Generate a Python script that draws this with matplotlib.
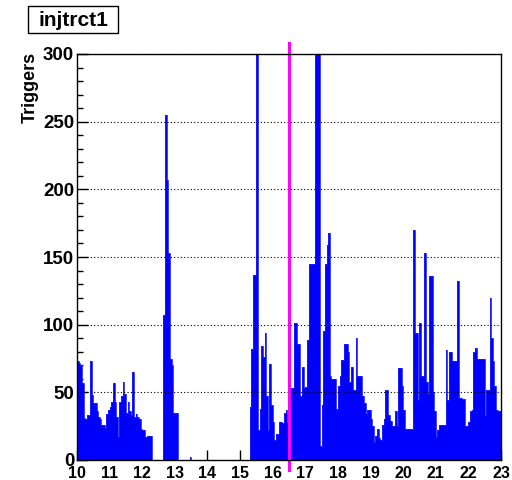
import numpy as np
import matplotlib
matplotlib.use("Agg")
import matplotlib.pyplot as plt
from matplotlib.patches import Rectangle
from matplotlib.ticker import MultipleLocator

plt.rcParams['font.family'] = ['Liberation Sans', 'DejaVu Sans']

# ---- data ----
title = "injtrct1"
y_label = "Triggers"
x_min, x_max, bin_width = 10.0, 23.0, 0.05
marker_x = 16.5

seg_10_12 = [73, 72, 70, 57, 31, 30, 33, 33, 73, 48, 42, 42, 36, 32, 30, 26, 26, 24,
             34, 37, 39, 43, 57, 43, 32, 17, 43, 47, 58, 49, 35, 43, 36, 33, 65, 32,
             34, 32, 30, 23, 22, 22, 17, 18, 18, 18]
seg_gap1 = [0, 0, 0, 0, 0, 0, 0]
seg_13 = [107, 255, 207, 153, 75, 70, 35, 35, 35]
seg_gap2 = [0] * 7 + [2] + [0] * 36
seg_15_17 = [39, 82, 137, 137, 320, 22, 38, 84, 76, 94, 47, 22, 71, 41, 28, 15, 19, 19,
             28, 28, 27, 35, 37, 27, 53, 53, 53, 101, 101, 86, 86, 47, 69, 53, 54, 89,
             145, 145, 145, 145, 320, 320, 320, 10, 41, 95, 145, 159, 168]
seg_17_20 = [62, 60, 60, 60, 38, 55, 62, 74, 74, 86, 86, 80, 58, 69, 52, 52, 90, 62,
             62, 62, 47, 42, 34, 37, 37, 30, 25, 13, 18, 23, 16, 15, 26, 30, 52, 52,
             33, 29, 25, 25, 36, 25, 68, 68, 55, 37]
seg_20_23 = [23, 23, 23, 23, 23, 170, 94, 94, 44, 101, 62, 62, 153, 58, 49, 136, 136,
             50, 36, 17, 22, 26, 26, 26, 26, 81, 44, 80, 80, 73, 73, 73, 132, 46, 46,
             45, 45, 25, 25, 28, 36, 37, 80, 83, 75, 75, 75, 75, 75, 33, 52, 52, 120,
             90, 73, 55, 37, 36, 36]

counts = np.array(seg_10_12 + seg_gap1 + seg_13 + seg_gap2 + seg_15_17 + seg_17_20 + seg_20_23, dtype=float)
n_bins = int(round((x_max - x_min) / bin_width))
edges = np.linspace(x_min, x_max, n_bins + 1)

y_max = 300
y_ticks = [0, 50, 100, 150, 200, 250, 300]
x_ticks = list(range(10, 24))

# ---- figure ----
fig = plt.figure(figsize=(5.12, 4.8), dpi=100)
ax = fig.add_axes([77 / 512, 20 / 480, 424 / 512, 406 / 480])

ax.stairs(counts[:n_bins], edges, fill=True, color='#0000ff', linewidth=0, zorder=2)
ax.stairs(counts[:n_bins], edges, fill=False, color='#2020ff', linewidth=0.6, zorder=2)

ax.set_xlim(x_min, x_max)
ax.set_ylim(0, y_max)

for yv in y_ticks[1:]:
    ax.axhline(yv, color='black', linestyle=(0, (1, 2)), linewidth=0.8, zorder=3)

ax.plot([marker_x, marker_x], [-7.4, 308], color='#ff00ff', linewidth=2.2,
        clip_on=False, zorder=5)

ax.set_yticks(y_ticks)
ax.set_xticks(x_ticks)
ax.yaxis.set_minor_locator(MultipleLocator(10))
ax.tick_params(axis='y', which='major', direction='in', length=8, width=1, pad=2,
               labelsize=13.5)
ax.tick_params(axis='y', which='minor', direction='in', length=4, width=1)
ax.tick_params(axis='x', which='major', direction='in', length=7.5, width=1, pad=4,
               labelsize=11.5)
for lab in ax.get_yticklabels():
    lab.set_fontweight('bold')
for lab in ax.get_xticklabels():
    lab.set_fontweight('bold')

for sp in ax.spines.values():
    sp.set_linewidth(1)
    sp.set_zorder(6)

# y label
fig.text(30 / 512, 1 - 52 / 480, y_label, rotation=90, ha='center', va='top',
         fontsize=13, fontweight='bold')

# title box
fig.patches.append(Rectangle((28 / 512, 1 - 33 / 480), 90 / 512, 27 / 480,
                             transform=fig.transFigure, facecolor='white',
                             edgecolor='black', linewidth=1))
fig.text(73 / 512, 1 - 20 / 480, title, ha='center', va='center',
         fontsize=15, fontweight='bold')

fig.savefig('out.png', dpi=100)
